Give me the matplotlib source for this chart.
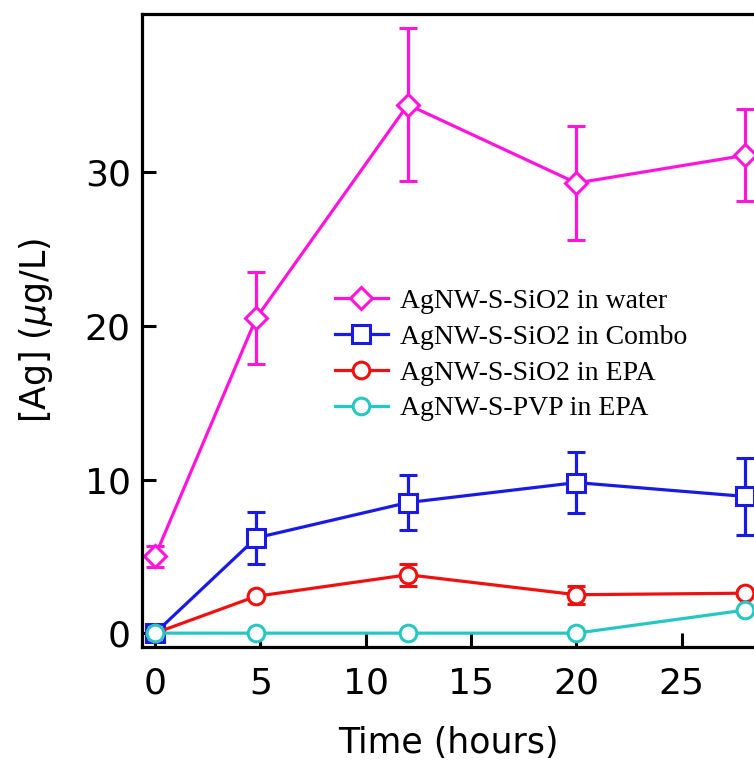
import matplotlib
matplotlib.use("Agg")
import matplotlib.pyplot as plt
from matplotlib.lines import Line2D

# tiempos de muestreo (horas)
tiempo = [0, 4.8, 12, 20, 28]

agua = [5.0, 20.5, 34.4, 29.3, 31.1]
agua_err = [0.7, 3.0, 5.0, 3.7, 3.0]

combo = [0.0, 6.2, 8.5, 9.8, 8.9]
combo_err = [0.0, 1.7, 1.8, 2.0, 2.5]

epa = [0.0, 2.4, 3.8, 2.5, 2.6]
epa_err = [0.0, 0.0, 0.7, 0.6, 0.2]

pvp = [0.0, 0.0, 0.0, 0.0, 1.5]
pvp_err = [0.0, 0.0, 0.0, 0.0, 0.0]

etiquetas = ["AgNW-S-SiO2 in water", "AgNW-S-SiO2 in Combo",
             "AgNW-S-SiO2 in EPA", "AgNW-S-PVP in EPA"]

plt.rcParams['font.family'] = ['DejaVu Sans']
plt.rcParams['mathtext.fontset'] = 'dejavusans'

fig = plt.figure(figsize=(7.54, 7.66), dpi=100)
ax = fig.add_axes([0.1883, 0.1554, 0.8117, 0.8263])

series = [
    (agua, agua_err, '#FF14DC', 'D', 11.5),
    (combo, combo_err, '#1A1AE6', 's', 12.5),
    (epa, epa_err, '#F01010', 'o', 12),
    (pvp, pvp_err, '#26C6C2', 'o', 12),
]

handles = []
for (y, err, color, marker, ms), etiqueta in zip(series, etiquetas):
    ax.errorbar(tiempo, y, yerr=err, color=color, marker=marker, ms=ms,
                mfc='white', mec=color, mew=2.2, lw=2.3, elinewidth=2.3,
                capsize=6.5, capthick=2.3, clip_on=False)
    handles.append(Line2D([], [], color=color, marker=marker, ms=ms,
                          mfc='white', mec=color, mew=2.2, lw=2.3, label=etiqueta))

ax.set_xlim(-0.62, 28.43)
ax.set_ylim(-0.9, 40.3)
ax.set_xticks([0, 5, 10, 15, 20, 25])
ax.set_yticks([0, 10, 20, 30])

ax.spines['right'].set_visible(False)
for s in ['left', 'top', 'bottom']:
    ax.spines[s].set_linewidth(2.3)

ax.tick_params(direction='in', length=10, width=2.2, labelsize=26)
ax.tick_params(axis='x', pad=14)
ax.tick_params(axis='y', pad=8)

ax.set_xlabel("Time (hours)", fontsize=25)
ax.xaxis.set_label_coords(0.5, -0.125)
ax.set_ylabel(r"[Ag] ($\mu$g/L)", fontsize=25)
ax.yaxis.set_label_coords(-0.142, 0.5)

ax.legend(handles=handles, loc='upper left', bbox_to_anchor=(0.315, 0.566),
          frameon=False, prop={'family': 'Liberation Serif', 'size': 20},
          borderpad=0, borderaxespad=0, handlelength=1.9,
          handletextpad=0.45, labelspacing=0.37)

fig.savefig("out.png", dpi=100)
